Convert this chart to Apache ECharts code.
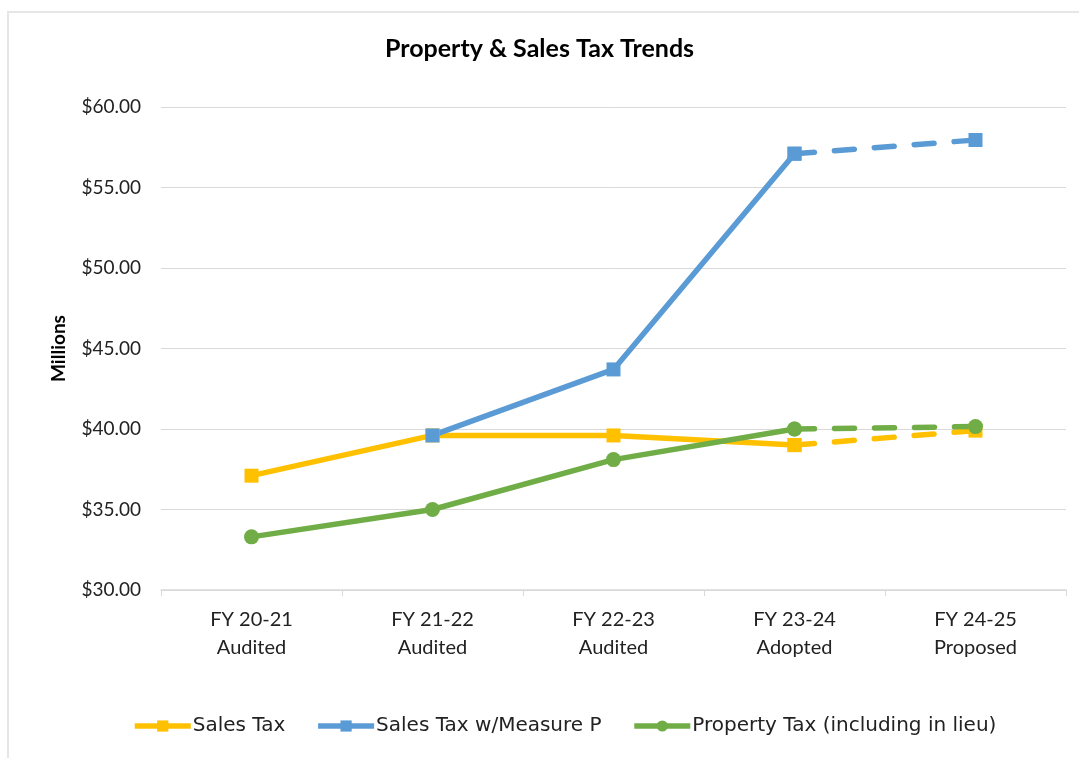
<!DOCTYPE html>
<html>
<head>
<meta charset="utf-8">
<script src="https://cdn.jsdelivr.net/npm/echarts@6/dist/echarts.min.js"></script>
<style>
html,body{margin:0;padding:0;background:#fff;}
#frame{position:absolute;left:7px;top:11px;width:1100px;height:800px;border:2px solid #e6e6e6;box-sizing:border-box;}
#chart{position:absolute;left:0;top:0;width:1079px;height:758px;}
</style>
</head>
<body>
<div id="frame"></div>
<div id="chart"></div>
<script>
const categories = ['FY 20-21\nAudited','FY 21-22\nAudited','FY 22-23\nAudited','FY 23-24\nAdopted','FY 24-25\nProposed'];
const salesTax = [37.1, 39.6, 39.6, 39.0, null];
const salesTaxProj = [null, null, null, 39.0, 39.9];
const measureP = [null, 39.6, 43.7, 57.1, null];
const measurePProj = [null, null, null, 57.1, 57.95];
const propertyTax = [33.3, 35.0, 38.1, 40.0, null];
const propertyTaxProj = [null, null, null, 40.0, 40.15];
const yTicks = {min: 30, max: 60, interval: 5};

const FONT = 'Lato';
const cY = '#FFC000', cB = '#5B9BD5', cG = '#70AD47';
function solid(name, data, color, symbol, size){
  return {name, type:'line', data, symbol, symbolSize:size, showAllSymbol:true, connectNulls:false,
    lineStyle:{color, width:5.5}, itemStyle:{color}, z:3};
}
function dashed(name, data, color, symbol, size){
  return {name, type:'line', data, symbol, symbolSize:size, showAllSymbol:true,
    lineStyle:{color, width:5.5, type:[20,20], cap:'round'}, itemStyle:{color}, z:2};
}
const chart = echarts.init(document.getElementById('chart'));
chart.setOption({
  animation:false,
  backgroundColor:'transparent',
  title:{text:'Property & Sales Tax Trends', left:'center', top:31,
    textStyle:{fontFamily:FONT, fontSize:25, fontWeight:'bold', color:'#000'}},
  grid:{left:161, right:13, top:107, bottom:168},
  legend:{bottom:17, left:127, itemWidth:56, itemHeight:14, itemGap:30,
    lineStyle:{width:5.5},
    data:['Sales Tax','Sales Tax w/Measure P','Property Tax (including in lieu)'],
    textStyle:{fontFamily:'DejaVu Sans', fontSize:20, color:'#222', padding:[0,0,0,-3]}},
  xAxis:{type:'category', data:categories, boundaryGap:true,
    axisLine:{lineStyle:{color:'#d9d9d9', width:1.5}},
    axisTick:{show:true, length:6, lineStyle:{color:'#d9d9d9'}},
    axisLabel:{fontFamily:FONT, fontSize:20, color:'#222', lineHeight:28, margin:16}},
  yAxis:{type:'value', min:yTicks.min, max:yTicks.max, interval:yTicks.interval,
    name:'Millions', nameLocation:'middle', nameGap:93,
    nameTextStyle:{fontFamily:FONT, fontSize:19, fontWeight:'bold', color:'#000'},
    axisLine:{show:false}, axisTick:{show:false},
    splitLine:{lineStyle:{color:'#d9d9d9', width:1}},
    axisLabel:{fontFamily:FONT, fontSize:19, color:'#222', margin:20,
      formatter:v=>'$'+v.toFixed(2)}},
  series:[
    solid('Sales Tax', salesTax, cY, 'rect', 14),
    solid('Sales Tax w/Measure P', measureP, cB, 'rect', 14),
    solid('Property Tax (including in lieu)', propertyTax, cG, 'circle', 15),
    dashed('Sales Tax', salesTaxProj, cY, 'rect', 14),
    dashed('Sales Tax w/Measure P', measurePProj, cB, 'rect', 14),
    dashed('Property Tax (including in lieu)', propertyTaxProj, cG, 'circle', 15)
  ]
});
</script>
</body>
</html>
